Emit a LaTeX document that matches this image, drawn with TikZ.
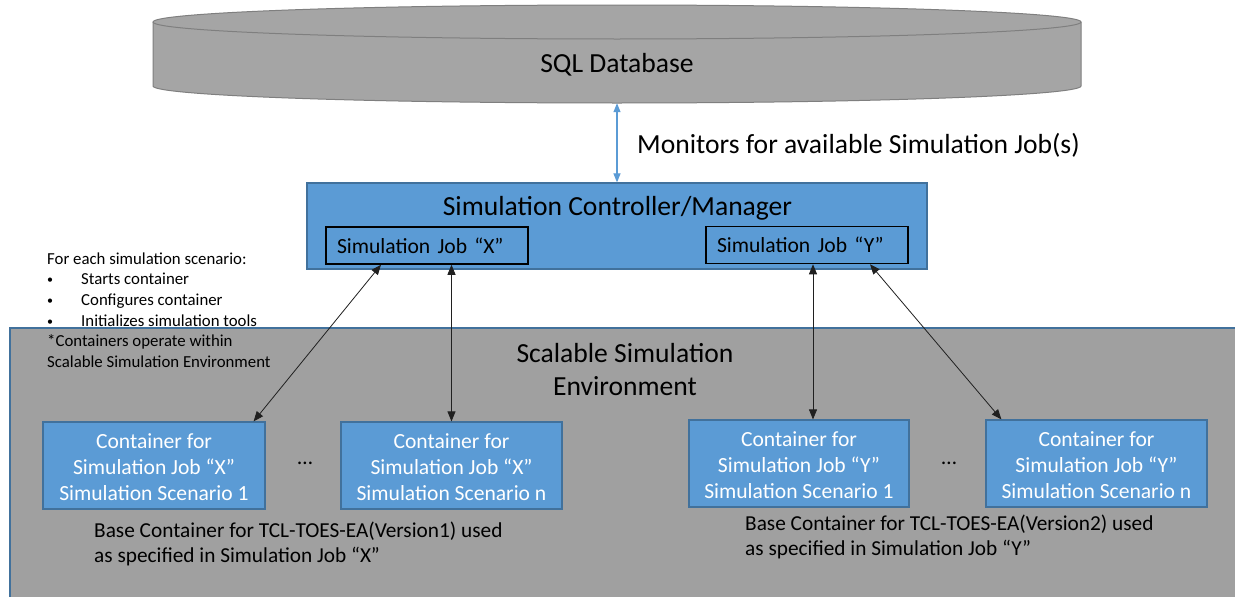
\documentclass[tikz,border=0pt]{standalone}
\usepackage{fontspec}
\setmainfont{Carlito}
\usetikzlibrary{arrows.meta,calc}
\definecolor{boxblue}{HTML}{5B9BD5}
\definecolor{boxedge}{HTML}{41719C}
\definecolor{dbgray}{HTML}{A5A5A5}
\definecolor{dbedge}{HTML}{7F7F7F}
\definecolor{envgray}{HTML}{A0A0A0}
\definecolor{arrowgray}{HTML}{202020}
\newcommand{\smallbullet}{\makebox[34pt][l]{\raisebox{1pt}{\fontsize{12}{12}\selectfont •}}}
\newcommand{\conttext}[3]{\raisebox{-2pt}[\height][\depth]{\parbox{#1}{\centering Container for\\Simulation Job “#2”\\Simulation Scenario #3}}}
\tikzset{
  bigtext/.style={font=\fontsize{27.6}{33}\selectfont, inner sep=0pt},
  midtext/.style={font=\fontsize{21.6}{26}\selectfont, inner sep=0pt},
  smalltext/.style={font=\fontsize{16.8}{20.6}\selectfont, inner sep=0pt, align=left},
  ctrlbox/.style={draw=boxedge, fill=boxblue, line width=1.2pt, minimum width=620pt, minimum height=86pt, inner sep=0pt},
  jobbox/.style={draw=black, line width=1.5pt, fill=boxblue, minimum width=202pt, minimum height=37pt, inner sep=0pt, text width=180pt, align=left, font=\fontsize{21.6}{26}\selectfont},
  contbox/.style={draw=boxedge, fill=boxblue, line width=1.2pt, minimum height=87pt, inner sep=0pt, align=center, text=white, font=\fontsize{21.6}{26}\selectfont},
  link/.style={draw=arrowgray, line width=0.8pt, {Triangle[length=10pt,width=8pt]}-{Triangle[length=10pt,width=8pt]}},
  bluelink/.style={draw=boxblue, line width=1.1pt, {Triangle[length=9pt,width=7pt]}-{Triangle[length=9pt,width=7pt]}},
}
\begin{document}
\begin{tikzpicture}[x=1pt,y=-1pt]
\clip (0,0) rectangle (1235,597);
\fill[white] (0,0) rectangle (1235,597);

% scalable environment area
\draw[fill=envgray, draw=boxedge, line width=1.2pt] (10,328) rectangle (1250,610);
\node[bigtext, align=center] (envtext) at (625,370) {Scalable Simulation\\Environment};

% database cylinder
\draw[fill=dbgray, draw=dbedge, line width=1pt]
  (153,22) -- (153,86) arc[start angle=180, end angle=0, x radius=464, y radius=17]
  -- (1081,22) arc[start angle=0, end angle=-180, x radius=464, y radius=17] -- cycle;
\draw[draw=dbedge, line width=1pt] (153,22) arc[start angle=180, end angle=0, x radius=464, y radius=17];
\node[minimum width=928pt, minimum height=98pt, inner sep=0pt] (db) at (617,54) {};
\node[bigtext] (dbtext) at (617,65) {SQL Database};

% controller
\node[ctrlbox] (ctrl) at (617,226) {};
\node[bigtext] (ctrltitle) at (617.5,208.5) {Simulation Controller/Manager};
\node[jobbox] (jobx) at (427,245.5) {Simulation Job “X”};
\node[jobbox] (joby) at (807,245) {Simulation Job “Y”};

\draw[bluelink] (db.south) -- (ctrl.north);
\node[bigtext, anchor=west] (monitor) at (637,145.5) {Monitors for available Simulation Job(s)};

% left notes
\node[smalltext, anchor=west] (notes) at (47,310) {For each simulation scenario:\\
\smallbullet Starts container\\
\smallbullet Configures container\\
\smallbullet Initializes simulation tools\\
*Containers operate within\\
Scalable Simulation Environment};

% containers
\node[contbox, minimum width=222pt] (c1) at (154,465.5) {\conttext{220pt}{X}{1}};
\node[contbox, minimum width=221pt] (c2) at (451.5,465.5) {\conttext{219pt}{X}{n}};
\node[contbox, minimum width=220pt] (c3) at (799,463.5) {\conttext{218pt}{Y}{1}};
\node[contbox, minimum width=221pt] (c4) at (1096.5,463.5) {\conttext{219pt}{Y}{n}};
\node[midtext] (dots1) at (305,463) {…};
\node[midtext] (dots2) at (949,463) {…};

\node[midtext, anchor=west, align=left, font=\fontsize{21.3}{25}\selectfont] (basex) at (94,543.5) {Base Container for TCL-TOES-EA(Version1) used\\as specified in Simulation Job “X”};
\node[midtext, anchor=west, align=left, font=\fontsize{21.3}{25}\selectfont] (basey) at (745,537) {Base Container for TCL-TOES-EA(Version2) used\\as specified in Simulation Job “Y”};

% links
\draw[link] ([xshift=-46pt]jobx.south) -- ([xshift=-12pt]c1.north east);
\draw[link] (jobx.south -| c2.north) -- (c2.north);
\draw[link] ([xshift=6pt]joby.south) -- ([xshift=6pt]joby.south |- c3.north);
\draw[link] ([xshift=63pt]joby.south) -- ([xshift=16pt]c4.north west);
\end{tikzpicture}
\end{document}
